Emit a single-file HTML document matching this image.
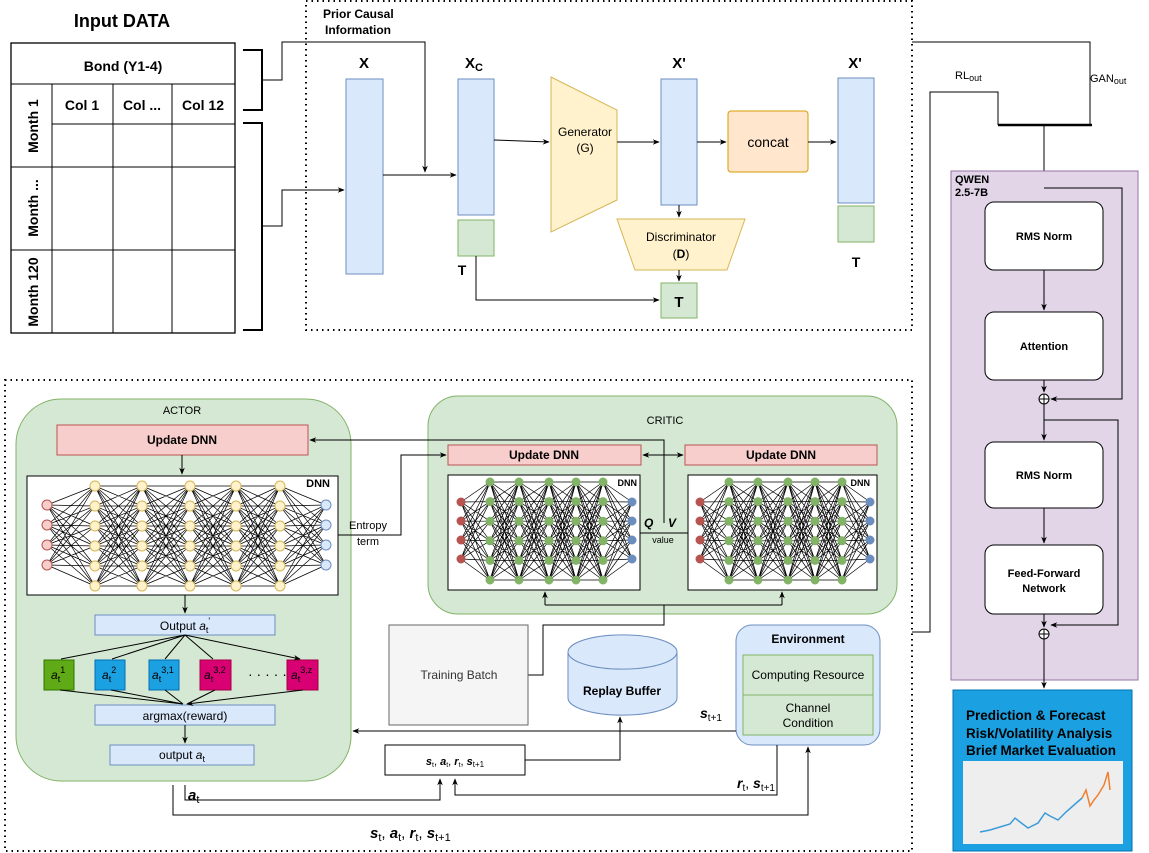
<!DOCTYPE html>
<html><head><meta charset="utf-8">
<style>
html,body{margin:0;padding:0;background:#fff;}
svg{display:block;font-family:"Liberation Sans",Arial,sans-serif;}
</style></head>
<body>
<svg id="s" width="1149" height="853" viewBox="0 0 1149 853" xmlns="http://www.w3.org/2000/svg">
<defs>
<marker id="a" viewBox="0 0 10 10" refX="9" refY="5" markerWidth="7" markerHeight="7" orient="auto-start-reverse"><path d="M0,1 L10,5 L0,9 L3,5 z" fill="#000"/></marker>
</defs>
<g fill="none" stroke="#000" stroke-width="1">
<rect x="11" y="43" width="224" height="290" stroke-width="1.3"/>
<line x1="11" y1="84" x2="235" y2="84"/>
<line x1="52" y1="124" x2="235" y2="124"/>
<line x1="11" y1="167" x2="235" y2="167"/>
<line x1="11" y1="250" x2="235" y2="250"/>
<line x1="52" y1="84" x2="52" y2="333"/>
<line x1="113" y1="84" x2="113" y2="333"/>
<line x1="172" y1="84" x2="172" y2="333"/>
<path d="M243,50 H262 V110 H243" stroke-width="2"/>
<path d="M243,123 H262 V330 H243" stroke-width="2"/>
<path d="M262,80 H282 V42 H425 V172" marker-end="url(#a)"/>
<path d="M262,226 H282 V190 H344" marker-end="url(#a)"/>
<rect x="306" y="1" width="606" height="329" stroke-dasharray="1.5,4" stroke-width="2"/>
<rect x="5" y="380" width="907" height="471" stroke-dasharray="1.5,4" stroke-width="2"/>
</g>
<text x="122" y="27" font-size="18" font-weight="bold" text-anchor="middle">Input DATA</text>
<text x="123" y="71" font-size="14" font-weight="bold" text-anchor="middle">Bond (Y1-4)</text>
<g font-size="14" font-weight="bold" text-anchor="middle">
<text x="82" y="110">Col 1</text><text x="142" y="110">Col ...</text><text x="203" y="110">Col 12</text>
<text transform="translate(38,126) rotate(-90)">Month 1</text>
<text transform="translate(38,208) rotate(-90)">Month ...</text>
<text transform="translate(38,292) rotate(-90)">Month 120</text>
</g>
<g font-size="12" font-weight="bold"><text x="323" y="18">Prior Causal</text><text x="325" y="34">Information</text></g>
<g font-size="15" font-weight="bold" text-anchor="middle">
<text x="364" y="68">X</text><text x="474" y="68">X<tspan font-size="11" dy="3">C</tspan></text>
<text x="679" y="68">X'</text><text x="855" y="68">X'</text>
<text x="462" y="275" font-size="14">T</text><text x="856" y="267" font-size="14">T</text>
</g>
<g stroke-width="1">
<rect x="346" y="79" width="37" height="195" fill="#dae8fc" stroke="#6c8ebf"/>
<rect x="458" y="79" width="36" height="136" fill="#dae8fc" stroke="#6c8ebf"/>
<rect x="458" y="220" width="36" height="36" fill="#d5e8d4" stroke="#82b366"/>
<rect x="661" y="79" width="36" height="126" fill="#dae8fc" stroke="#6c8ebf"/>
<rect x="661" y="283" width="36" height="35" fill="#d5e8d4" stroke="#82b366"/>
<rect x="838" y="78" width="36" height="125" fill="#dae8fc" stroke="#6c8ebf"/>
<rect x="838" y="206" width="36" height="36" fill="#d5e8d4" stroke="#82b366"/>
<polygon points="551,77 617,110 617,200 551,232" fill="#fff2cc" stroke="#d6b656"/>
<polygon points="617,219 745,219 727,270 635,270" fill="#fff2cc" stroke="#d6b656"/>
<rect x="728" y="111" width="80" height="61" rx="3" fill="#ffe6cc" stroke="#d79b00"/>
</g>
<text x="679" y="307" font-size="15" font-weight="bold" text-anchor="middle">T</text>
<g font-size="12" text-anchor="middle"><text x="585" y="136">Generator</text><text x="585" y="152">(G)</text>
<text x="681" y="241">Discriminator</text><text x="681" y="258">(<tspan font-weight="bold">D</tspan>)</text>
<text x="768" y="147" font-size="14">concat</text></g>
<g fill="none" stroke="#000">
<path d="M383,175 H456" marker-end="url(#a)"/>
<path d="M494,140 L549,142" marker-end="url(#a)"/>
<path d="M617,142 H659" marker-end="url(#a)"/>
<path d="M679,205 V217" marker-end="url(#a)"/>
<path d="M679,270 V281" marker-end="url(#a)"/>
<path d="M476,256 V300 H659" marker-end="url(#a)"/>
<path d="M697,142 H726" marker-end="url(#a)"/>
<path d="M808,142 H836" marker-end="url(#a)"/>
<path d="M912,42 H1090 V125"/>
<path d="M912,632 H930 V92 H998 V125"/>
<path d="M998,125 H1092" stroke-width="2.5"/>
<path d="M1044,125 V200" marker-end="url(#a)"/>
</g>
<text x="955" y="79" font-size="11">RL<tspan font-size="9" dy="2">out</tspan></text>
<text x="1090" y="82" font-size="11">GAN<tspan font-size="9" dy="2">out</tspan></text>
<rect x="951" y="171" width="187" height="509" fill="#e1d5e7" stroke="#9673a6"/>
<text x="955" y="183" font-size="11" font-weight="bold">QWEN</text><text x="955" y="196" font-size="11" font-weight="bold">2.5-7B</text>
<g fill="#fff" stroke="#000">
<rect x="985" y="202" width="118" height="68" rx="9"/>
<rect x="985" y="312" width="118" height="68" rx="9"/>
<rect x="985" y="442" width="118" height="66" rx="9"/>
<rect x="985" y="545" width="118" height="69" rx="9"/>
<circle cx="1044" cy="399" r="5"/><circle cx="1044" cy="634" r="5"/>
</g>
<g stroke="#000"><path d="M1039,399H1049M1044,394V404M1039,634H1049M1044,629V639"/></g>
<g font-size="11" font-weight="bold" text-anchor="middle">
<text x="1044" y="240">RMS Norm</text><text x="1044" y="350">Attention</text>
<text x="1044" y="479">RMS Norm</text><text x="1044" y="577">Feed-Forward</text><text x="1044" y="592">Network</text></g>
<g fill="none" stroke="#000">
<path d="M1044,270 V310" marker-end="url(#a)"/>
<path d="M1044,380 V392" marker-end="url(#a)"/>
<path d="M1044,404 V440" marker-end="url(#a)"/>
<path d="M1044,508 V543" marker-end="url(#a)"/>
<path d="M1044,614 V627" marker-end="url(#a)"/>
<path d="M1044,188 H1122 V399 H1051" marker-end="url(#a)"/>
<path d="M1044,420 H1118 V625 H1051" marker-end="url(#a)"/>
<path d="M1044,639 V688" marker-end="url(#a)"/>
</g>
<rect x="953" y="690" width="179" height="161" fill="#1ba1e2" stroke="#006eaf"/>
<g font-size="13.5" font-weight="bold"><text x="966" y="720">Prediction &amp; Forecast</text><text x="966" y="738">Risk/Volatility Analysis</text><text x="966" y="755">Brief Market Evaluation</text></g>
<rect x="963" y="761" width="160" height="83" fill="#eeeeee"/>
<polyline fill="none" stroke="#3a9bd9" stroke-width="1.5" points="980,832 990,830 1000,827 1010,824 1015,818 1020,822 1028,828 1038,823 1045,813 1050,816 1058,820 1066,812 1074,805 1082,798"/>
<polyline fill="none" stroke="#f08030" stroke-width="1.5" points="1082,798 1086,790 1090,806 1094,800 1098,795 1104,785 1108,772 1110,790"/>
<rect x="16" y="399" width="335" height="382" rx="45" fill="#d5e8d4" stroke="#82b366"/>
<text x="182" y="414" font-size="11" text-anchor="middle">ACTOR</text>
<rect x="57" y="425" width="251" height="30" fill="#f8cecc" stroke="#b85450"/>
<text x="182" y="444" font-size="12" font-weight="bold" text-anchor="middle">Update DNN</text>
<rect x="27" y="476" width="311" height="119" fill="#fff" stroke="#000"/>
<text x="330" y="487" font-size="11" font-weight="bold" text-anchor="end">DNN</text>
<g id="nets"></g>
<g fill="#dae8fc" stroke="#6c8ebf">
<rect x="95" y="615" width="180" height="20"/><rect x="95" y="705" width="180" height="20"/><rect x="110" y="745" width="144" height="20"/></g>
<g font-size="12" text-anchor="middle"><text x="185" y="630">Output <tspan font-style="italic">a</tspan><tspan font-size="9" dy="3">t</tspan><tspan font-size="9" dy="-9">'</tspan></text>
<text x="185" y="720">argmax(reward)</text><text x="182" y="759">output <tspan font-style="italic">a</tspan><tspan font-size="9" dy="3">t</tspan></text></g>
<rect x="44" y="660" width="30" height="30" fill="#60a917" stroke="#2d7600"/>
<rect x="95" y="660" width="30" height="30" fill="#1ba1e2" stroke="#006eaf"/>
<rect x="149" y="660" width="30" height="30" fill="#1ba1e2" stroke="#006eaf"/>
<rect x="200" y="660" width="31" height="30" fill="#d80073" stroke="#a50040"/>
<rect x="287" y="660" width="31" height="30" fill="#d80073" stroke="#a50040"/>
<g font-size="12" font-style="italic"><text x="51" y="679">a<tspan font-size="9" font-style="normal" dy="3">t</tspan><tspan font-size="9" font-style="normal" dy="-9">1</tspan></text>
<text x="102" y="679">a<tspan font-size="9" font-style="normal" dy="3">t</tspan><tspan font-size="9" font-style="normal" dy="-9">2</tspan></text>
<text x="152" y="679">a<tspan font-size="9" font-style="normal" dy="3">t</tspan><tspan font-size="9" font-style="normal" dy="-9">3,1</tspan></text>
<text x="204" y="679">a<tspan font-size="9" font-style="normal" dy="3">t</tspan><tspan font-size="9" font-style="normal" dy="-9">3,2</tspan></text>
<text x="291" y="679">a<tspan font-size="9" font-style="normal" dy="3">t</tspan><tspan font-size="9" font-style="normal" dy="-9">3,z</tspan></text></g>
<text x="248" y="679" font-size="14">· · · · ·</text>
<g fill="none" stroke="#000">
<path d="M182,455 V474" marker-end="url(#a)"/>
<path d="M185,595 V613" marker-end="url(#a)"/>
<path d="M185,635 L61,659M185,635 L112,659M185,635 L165,659M185,635 L213,659M185,635 L300,659" marker-end="url(#a)"/>
<path d="M60,690 L183,704M111,690 L183,704M165,690 L183,704M215,690 L187,704M303,690 L187,704" marker-end="url(#a)"/>
<path d="M185,725 V743" marker-end="url(#a)"/>
</g>
<rect x="428" y="396" width="469" height="218" rx="30" fill="#d5e8d4" stroke="#82b366"/>
<text x="665" y="424" font-size="11" text-anchor="middle">CRITIC</text>
<rect x="448" y="445" width="193" height="20" fill="#f8cecc" stroke="#b85450"/>
<rect x="685" y="445" width="192" height="20" fill="#f8cecc" stroke="#b85450"/>
<g font-size="12" font-weight="bold" text-anchor="middle"><text x="544" y="459">Update DNN</text><text x="781" y="459">Update DNN</text></g>
<rect x="448" y="475" width="192" height="115" fill="#fff" stroke="#000"/>
<rect x="688" y="475" width="189" height="115" fill="#fff" stroke="#000"/>
<g font-size="9" font-weight="bold" text-anchor="end"><text x="637" y="486">DNN</text><text x="870" y="486">DNN</text></g>
<g id="nets2"></g>
<g font-size="12" font-weight="bold" font-style="italic"><text x="644" y="527">Q</text><text x="668" y="527">V</text></g>
<text x="663" y="543" font-size="9" text-anchor="middle">value</text>
<g font-size="11" text-anchor="middle"><text x="368" y="529">Entropy</text><text x="368" y="545">term</text></g>
<g fill="none" stroke="#000">
<path d="M338,535 H401 V455 H446" marker-end="url(#a)"/>
<path d="M664,523 V440 H310" marker-end="url(#a)"/>
<path d="M640,533 H688"/>
<path d="M643,455 H683" marker-start="url(#a)" marker-end="url(#a)"/>
<path d="M664,625 V605 M545,605 H782" />
<path d="M545,605 V592" marker-end="url(#a)"/>
<path d="M782,605 V592" marker-end="url(#a)"/>
<path d="M664,615 V625 H543 V675 H528"/>
</g>
<rect x="389" y="625" width="139" height="100" fill="#f5f5f5" stroke="#666"/>
<text x="459" y="679" font-size="12" fill="#333" text-anchor="middle">Training Batch</text>
<path d="M568,652 V698 A54,17 0 0 0 677,698 V652 A54,17 0 0 0 568,652 A54,17 0 0 0 677,652" fill="#dae8fc" stroke="#6c8ebf"/>
<text x="622" y="695" font-size="12" font-weight="bold" text-anchor="middle">Replay Buffer</text>
<rect x="736" y="625" width="144" height="120" rx="16" fill="#dae8fc" stroke="#6c8ebf"/>
<text x="808" y="643" font-size="12" font-weight="bold" text-anchor="middle">Environment</text>
<rect x="743" y="655" width="130" height="40" fill="#d5e8d4" stroke="#82b366"/>
<rect x="743" y="695" width="130" height="40" fill="#d5e8d4" stroke="#82b366"/>
<g font-size="12" text-anchor="middle"><text x="808" y="679">Computing Resource</text><text x="808" y="712">Channel</text><text x="808" y="727">Condition</text></g>
<rect x="385" y="745" width="140" height="30" fill="#fff" stroke="#000"/>
<text x="455" y="765" font-size="11" text-anchor="middle" font-style="italic" font-weight="bold">s<tspan font-size="7" font-style="normal" font-weight="normal" dy="2">t</tspan><tspan dy="-2" font-weight="normal" font-style="normal">, </tspan>a<tspan font-size="7" font-style="normal" font-weight="normal" dy="2">t</tspan><tspan dy="-2" font-weight="normal" font-style="normal">, </tspan>r<tspan font-size="7" font-style="normal" font-weight="normal" dy="2">t</tspan><tspan dy="-2" font-weight="normal" font-style="normal">, </tspan>s<tspan font-size="8" font-style="normal" font-weight="normal" dy="2">t+1</tspan></text>
<g fill="none" stroke="#000">
<path d="M736,731 H353" marker-end="url(#a)"/>
<path d="M525,760 H620 V717" marker-end="url(#a)"/>
<path d="M185,785 V800 H440 V779" marker-end="url(#a)"/>
<path d="M777,745 V795 H455 V779" marker-end="url(#a)"/>
<path d="M173,785 V815 H808 V747" marker-end="url(#a)"/>
</g>
<g font-weight="bold" font-style="italic">
<text x="700" y="718" font-size="14">s<tspan font-size="10" font-style="normal" font-weight="normal" dy="3">t+1</tspan></text>
<text x="737" y="788" font-size="14">r<tspan font-size="10" font-style="normal" font-weight="normal" dy="3">t</tspan><tspan dy="-3" font-style="normal" font-weight="normal">, </tspan>s<tspan font-size="10" font-style="normal" font-weight="normal" dy="3">t+1</tspan></text>
<text x="188" y="800" font-size="15">a<tspan font-size="11" font-style="normal" font-weight="normal" dy="3">t</tspan></text>
<text x="370" y="838" font-size="15">s<tspan font-size="11" font-style="normal" font-weight="normal" dy="3">t</tspan><tspan dy="-3" font-style="normal" font-weight="normal">, </tspan>a<tspan font-size="11" font-style="normal" font-weight="normal" dy="3">t</tspan><tspan dy="-3" font-style="normal" font-weight="normal">, </tspan>r<tspan font-size="11" font-style="normal" font-weight="normal" dy="3">t</tspan><tspan dy="-3" font-style="normal" font-weight="normal">, </tspan>s<tspan font-size="11" font-style="normal" font-weight="normal" dy="3">t+1</tspan></text>
</g>
</svg>
<script>
(function(){
var NS="http://www.w3.org/2000/svg";
function net(g,inX,hx,outX,inY,hY,outY,r,cIn,cH,cOut,sIn,sH,sOut){
  var layers=[[inX,inY]];hx.forEach(function(x){layers.push([x,hY]);});layers.push([outX,outY]);
  var d="";
  for(var i=0;i<layers.length-1;i++){var A=layers[i],B=layers[i+1];
    A[1].forEach(function(ya){B[1].forEach(function(yb){d+="M"+A[0]+","+ya+"L"+B[0]+","+yb;});});}
  var p=document.createElementNS(NS,"path");p.setAttribute("d",d);p.setAttribute("stroke","#000");p.setAttribute("stroke-width","0.7");p.setAttribute("fill","none");g.appendChild(p);
  layers.forEach(function(L,i){var f=i==0?cIn:(i==layers.length-1?cOut:cH),s=i==0?sIn:(i==layers.length-1?sOut:sH);
    L[1].forEach(function(y){var c=document.createElementNS(NS,"circle");c.setAttribute("cx",L[0]);c.setAttribute("cy",y);c.setAttribute("r",r);c.setAttribute("fill",f);c.setAttribute("stroke",s);g.appendChild(c);});});
}
var g=document.getElementById("nets"),g2=document.getElementById("nets2");
net(g,47,[95,142,190,236,280],326,[505,525,545,565],[486,506,526,546,566,586],[505,525,545,565],5,"#f8cecc","#fff2cc","#dae8fc","#b85450","#d6b656","#6c8ebf");
var h6=[482,501.6,521.2,540.8,560.4,580],i4=[502,521,540,559];
net(g2,461,[490,519,549,576,603],632,i4,h6,i4,4,"#b85450","#82b366","#6c8ebf","#b85450","#82b366","#6c8ebf");
net(g2,700,[729,758,788,815,842],870,i4,h6,i4,4,"#b85450","#82b366","#6c8ebf","#b85450","#82b366","#6c8ebf");
})();
</script>
</body></html>
